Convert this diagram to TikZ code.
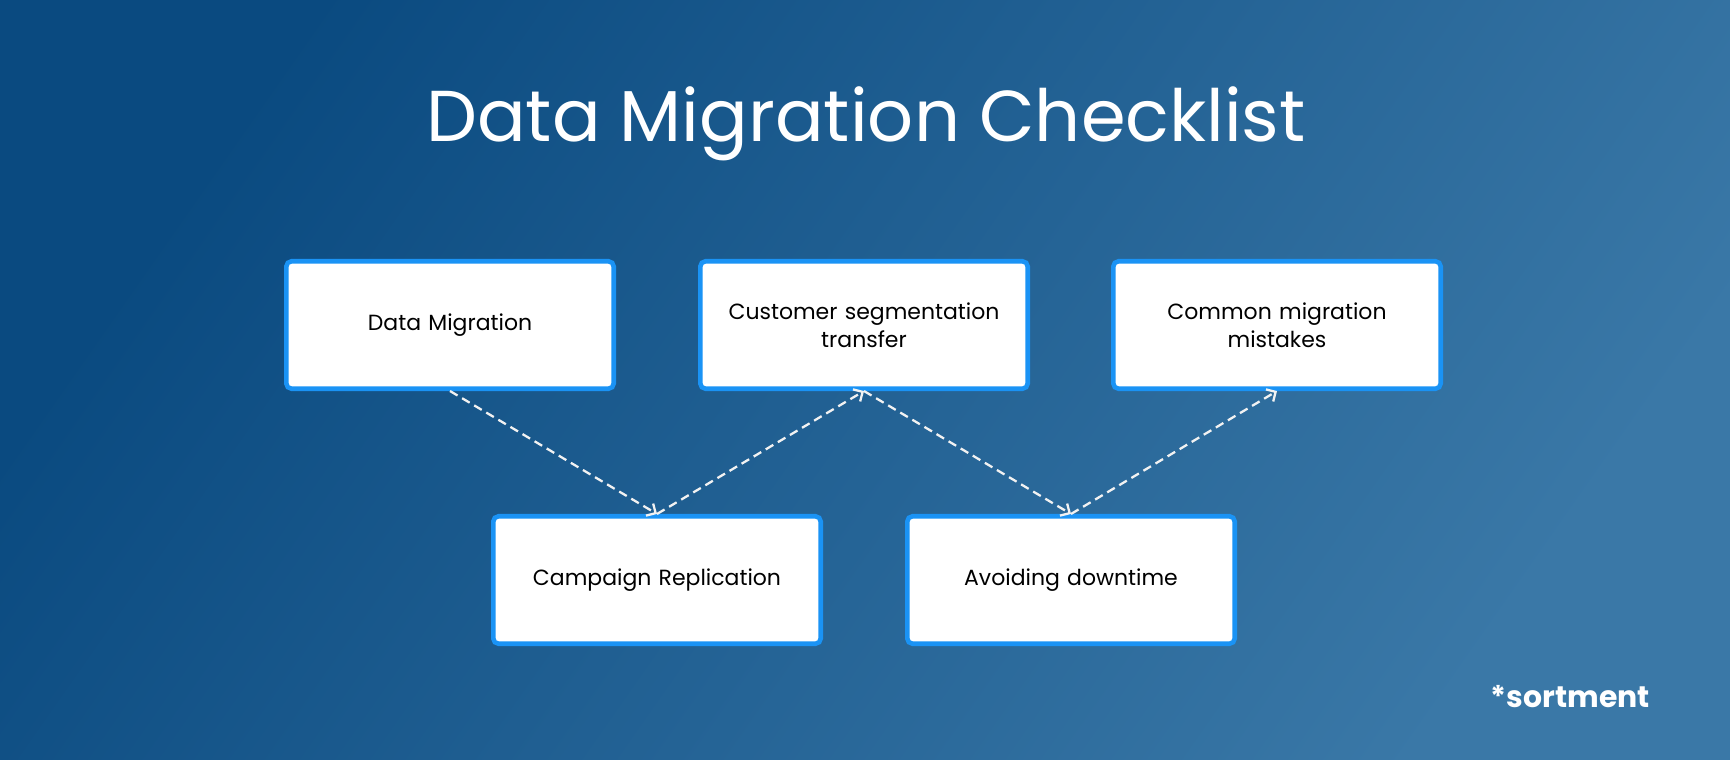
\documentclass[tikz,border=0pt]{standalone}
\usepackage{fontspec}
\setmainfont{Poppins}
\usetikzlibrary{arrows.meta}
\definecolor{bgdark}{HTML}{0A4A80}
\definecolor{bglight}{HTML}{3A78A7}
\definecolor{edgeblue}{HTML}{1A93F5}

\begin{document}
\begin{tikzpicture}[x=0.02cm, y=-0.02cm,
  stage/.style={draw=edgeblue, line width=2.6pt, fill=white, rounded corners=3pt,
    minimum width=6.55cm, minimum height=2.55cm, align=center, text width=6cm,
    font=\fontsize{12.5}{16}\selectfont},
  link/.style={-{Straight Barb[length=4pt,width=8pt]}, white!90!gray, line width=1.3pt, dash pattern=on 5pt off 3pt}]
% background
\shade[left color=bgdark, right color=bglight, shading angle=55] (0,0) rectangle (1730,760);
\useasboundingbox (0,0) rectangle (1730,760);
\node[text=white, font=\fontsize{41}{48}\selectfont] (title) at (866,124) {Data Migration Checklist};

% Draw the stages
\node[stage] (migration) at (450,325) {Data Migration};
\node[stage] (segment) at (864,325) {Customer segmentation\\transfer};
\node[stage] (mistakes) at (1277,325) {Common migration\\mistakes};
\node[stage] (campaign) at (657,580) {Campaign Replication};
\node[stage] (downtime) at (1071,580) {Avoiding downtime};

% Draw arrows
\draw[link] (migration.south) -- (campaign.north);
\draw[link] (campaign.north) -- (segment.south);
\draw[link] (segment.south) -- (downtime.north);
\draw[link] (downtime.north) -- (mistakes.south);

\node[text=white, font=\fontsize{17}{20}\selectfont\bfseries, anchor=east] (logo) at (1656,697) {*sortment};
\end{tikzpicture}
\end{document}
